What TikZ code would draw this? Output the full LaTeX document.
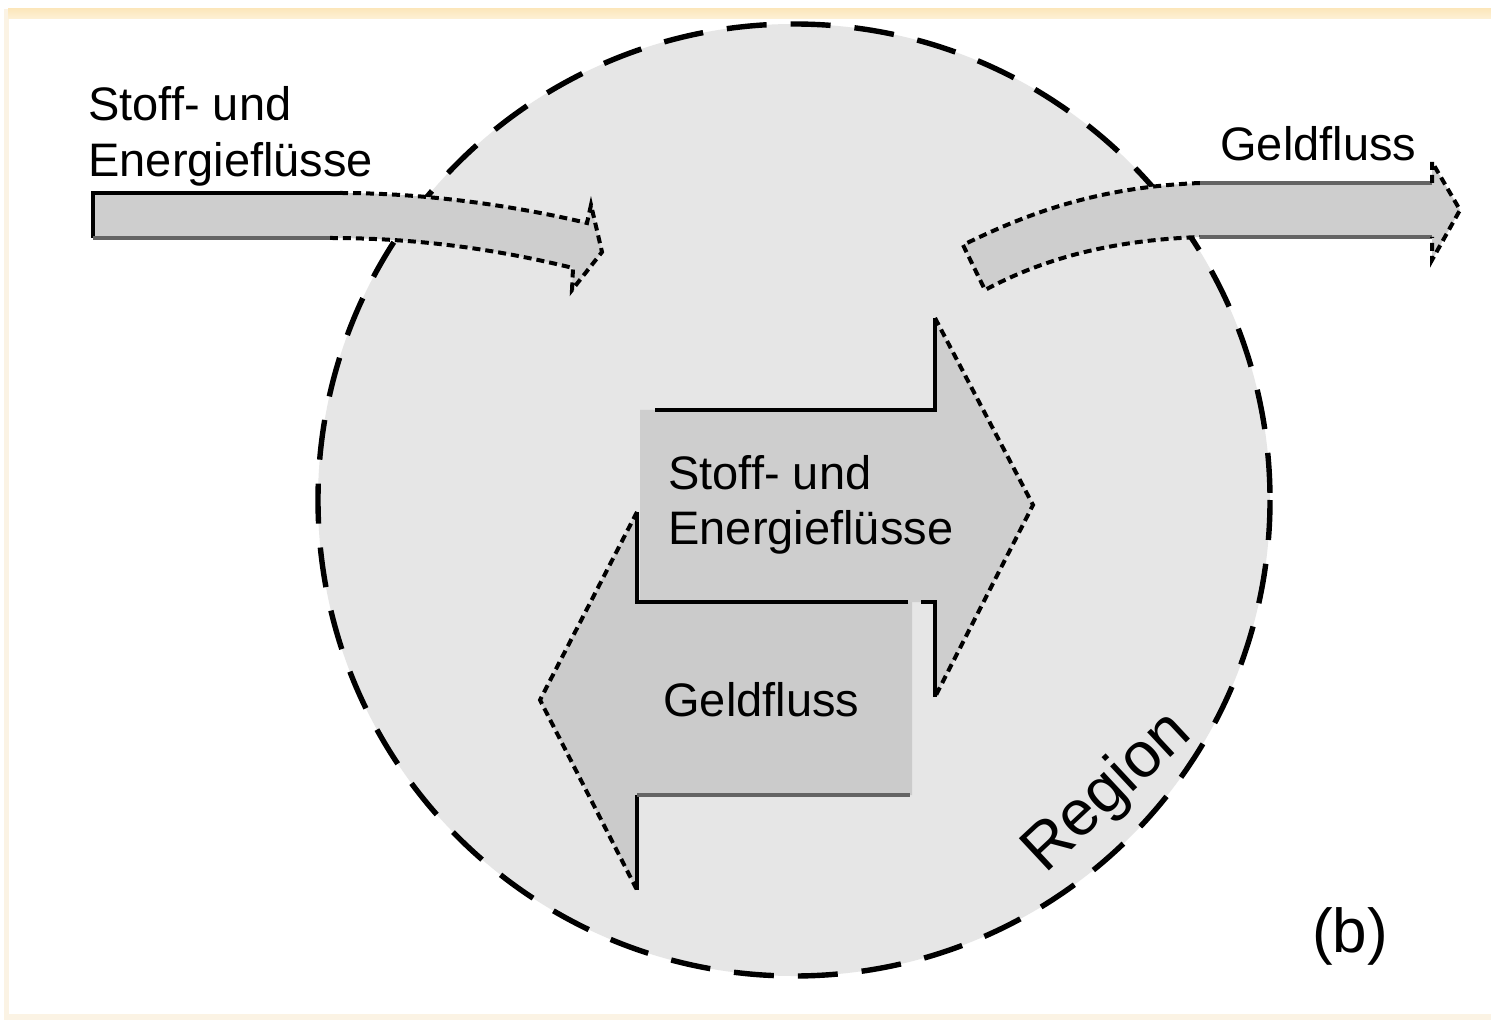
\documentclass[tikz,border=0pt]{standalone}
\usepackage{fontspec}
\setmainfont{Liberation Sans}
\definecolor{circfill}{RGB}{230,230,230}
\definecolor{arrfill}{RGB}{206,206,206}
\definecolor{geldfill}{RGB}{203,203,203}
\definecolor{framebar}{RGB}{252,231,188}
\definecolor{framefaint}{RGB}{251,243,228}
\definecolor{edgegray}{RGB}{100,100,100}
\tikzset{
  lbl/.style={inner sep=0pt, anchor=base west, font=\fontsize{23.5}{28}\selectfont},
  solidedge/.style={line width=1.6pt, black},
  grayedge/.style={line width=1.6pt, edgegray},
  dotedge/.style={line width=2pt, black, dash pattern=on 4pt off 2.5pt},
  regionline/.style={line width=2.7pt, black, dash pattern=on 20pt off 12pt}
}
\begin{document}
\begin{tikzpicture}[x=0.5pt,y=-0.5pt]
\useasboundingbox (0,0) rectangle (1491,1020);
\fill[white] (0,0) rectangle (1491,1020);
% frame
\fill[framefaint] (4,9) rectangle (9,1020);
\fill[framefaint] (4,1014) rectangle (1491,1020);
\shade[top color=framebar, bottom color=framebar!60!white] (8,9) rectangle (1491,19);
% region circle
\fill[circfill] (794,500) circle [radius=476];
\draw[regionline] (794,500) circle [radius=476];

% incoming arrow (top left)
\fill[arrfill] (93,193) -- (340,193) .. controls (430,193) and (520,207) .. (587,223)
  -- (591,205) -- (602,252) -- (572,290) -- (573,268)
  .. controls (500,250) and (420,238) .. (330,238) -- (93,238) -- cycle;
\draw[solidedge] (340,193) -- (93,193) -- (93,238);
\draw[grayedge] (93,238) -- (330,238);
\draw[dotedge] (340,193) .. controls (430,193) and (520,207) .. (587,223)
  -- (591,205) -- (602,252) -- (572,290) -- (573,268)
  .. controls (500,250) and (420,238) .. (330,238);

% outgoing arrow (top right)
\fill[arrfill] (963,245) .. controls (1030,212) and (1100,187) .. (1200,183)
  -- (1432,183) -- (1432,162) -- (1460,210) -- (1432,260) -- (1432,237)
  -- (1200,237) .. controls (1120,240) and (1050,255) .. (985,290) -- cycle;
\draw[dotedge] (1200,183) .. controls (1100,187) and (1030,212) .. (963,245)
  -- (985,290) .. controls (1050,255) and (1120,240) .. (1200,237);
\draw[grayedge] (1200,183) -- (1432,183);
\draw[grayedge] (1200,237) -- (1432,237);
\draw[dotedge] (1432,183) -- (1432,162) -- (1460,210) -- (1432,260) -- (1432,237);

% inner arrow to the right (Stoff- und Energiefluesse)
\fill[arrfill] (640,410) -- (935,410) -- (935,318) -- (1033,505) -- (935,697)
  -- (935,602) -- (640,602) -- cycle;
\draw[solidedge] (655,410) -- (935,410) -- (935,318);
\draw[dotedge] (935,318) -- (1033,505) -- (935,697);
\draw[solidedge] (935,697) -- (935,602) -- (921,602);

% inner arrow to the left (Geldfluss)
\fill[geldfill] (637,602) -- (912,602) -- (912,795) -- (637,795) -- (637,890)
  -- (540,700) -- (637,512) -- cycle;
\draw[solidedge] (908,602) -- (637,602) -- (637,512);
\draw[dotedge] (637,512) -- (540,700) -- (637,890);
\draw[solidedge] (637,890) -- (637,795);
\draw[grayedge] (637,795) -- (910,795);

% labels
\node[lbl] (inA) at (88,121) {Stoff- und};
\node[lbl] (inB) at (88,177) {Energieflüsse};
\node[lbl] (outA) at (1220,161) {Geldfluss};
\node[lbl] (midA) at (668,489) {Stoff- und};
\node[lbl] (midB) at (668,545) {Energieflüsse};
\node[lbl] (midC) at (663,716) {Geldfluss};
\node[inner sep=0pt, font=\fontsize{32}{38}\selectfont, rotate=43] (reg) at (1108,793) {Region};
\node[inner sep=0pt, font=\fontsize{31}{36}\selectfont] (lab) at (1350,936) {(b)};
\end{tikzpicture}
\end{document}
